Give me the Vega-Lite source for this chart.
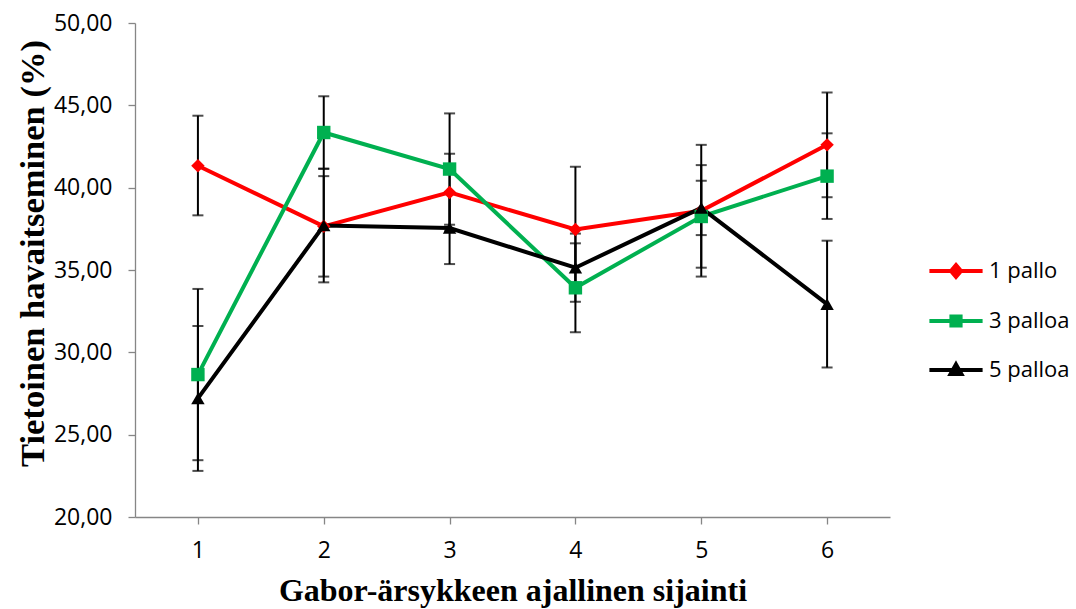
{
  "$schema": "https://vega.github.io/schema/vega-lite/v6.json",
  "width": 755,
  "height": 494,
  "autosize": {"type": "none"},
  "padding": {"left": 135, "top": 23, "right": 186, "bottom": 92},
  "background": "white",
  "config": {
    "view": {"stroke": null},
    "axis": {
      "grid": false,
      "domainColor": "#868686",
      "domainWidth": 1.3,
      "tickColor": "#868686",
      "tickWidth": 1.3,
      "labelColor": "#000000",
      "titleColor": "#000000",
      "labelFont": "Open Sans",
      "titleFont": "Liberation Serif",
      "titleFontWeight": "bold"
    }
  },
  "data": {
    "values": [
      {"pos": 1, "series": "1 pallo", "value": 41.33, "lo": 38.32, "hi": 44.37},
      {"pos": 2, "series": "1 pallo", "value": 37.65, "lo": 34.6, "hi": 40.7},
      {"pos": 3, "series": "1 pallo", "value": 39.71, "lo": 37.36, "hi": 42.06},
      {"pos": 4, "series": "1 pallo", "value": 37.46, "lo": 33.65, "hi": 41.27},
      {"pos": 5, "series": "1 pallo", "value": 38.6, "lo": 34.6, "hi": 42.6},
      {"pos": 6, "series": "1 pallo", "value": 42.6, "lo": 39.42, "hi": 45.78},
      {"pos": 1, "series": "3 palloa", "value": 28.65, "lo": 23.45, "hi": 33.85},
      {"pos": 2, "series": "3 palloa", "value": 43.35, "lo": 41.15, "hi": 45.55},
      {"pos": 3, "series": "3 palloa", "value": 41.13, "lo": 37.75, "hi": 44.51},
      {"pos": 4, "series": "3 palloa", "value": 33.92, "lo": 31.22, "hi": 36.62},
      {"pos": 5, "series": "3 palloa", "value": 38.25, "lo": 35.14, "hi": 41.37},
      {"pos": 6, "series": "3 palloa", "value": 40.7, "lo": 38.1, "hi": 43.3},
      {"pos": 1, "series": "5 palloa", "value": 27.2, "lo": 22.8, "hi": 31.6},
      {"pos": 2, "series": "5 palloa", "value": 37.7, "lo": 34.25, "hi": 41.15},
      {"pos": 3, "series": "5 palloa", "value": 37.55, "lo": 35.36, "hi": 39.74},
      {"pos": 4, "series": "5 palloa", "value": 35.14, "lo": 33.07, "hi": 37.21},
      {"pos": 5, "series": "5 palloa", "value": 38.77, "lo": 37.12, "hi": 40.42},
      {"pos": 6, "series": "5 palloa", "value": 32.93, "lo": 29.08, "hi": 36.78}
    ]
  },
  "encoding": {
    "x": {
      "field": "pos",
      "type": "ordinal",
      "scale": {"type": "point", "padding": 0.5},
      "axis": {
        "title": "Gabor-ärsykkeen ajallinen sijainti",
        "labelAngle": 0,
        "labelFontSize": 23,
        "titleFontSize": 32,
        "tickSize": 7,
        "labelPadding": 15,
        "titlePadding": 13
      }
    }
  },
  "layer": [
    {
      "mark": {"type": "rule", "color": "black", "strokeWidth": 2},
      "encoding": {
        "y": {
          "field": "lo",
          "type": "quantitative",
          "title": "Tietoinen havaitseminen (%)",
          "scale": {"domain": [20, 50], "nice": false, "zero": false},
          "axis": {
            "values": [20, 25, 30, 35, 40, 45, 50],
            "labelExpr": "replace(format(datum.value, '.2f'), '.', ',')",
            "labelFontSize": 23,
            "titleFontSize": 34.5,
            "titleY": 230,
            "tickSize": 7,
            "labelPadding": 16,
            "titlePadding": 3
          }
        },
        "y2": {"field": "hi"}
      }
    },
    {
      "mark": {"type": "tick", "orient": "horizontal", "color": "black", "size": 11, "thickness": 2},
      "encoding": {
        "y": {"field": "lo", "type": "quantitative", "title": "Tietoinen havaitseminen (%)"}
      }
    },
    {
      "mark": {"type": "tick", "orient": "horizontal", "color": "black", "size": 11, "thickness": 2},
      "encoding": {
        "y": {"field": "hi", "type": "quantitative", "title": "Tietoinen havaitseminen (%)"}
      }
    },
    {
      "mark": {"type": "line", "strokeWidth": 4},
      "encoding": {
        "y": {"field": "value", "type": "quantitative", "title": "Tietoinen havaitseminen (%)"},
        "color": {
          "field": "series",
          "type": "nominal",
          "scale": {"domain": ["1 pallo", "3 palloa", "5 palloa"], "range": ["#FF0000", "#00B050", "#000000"]},
          "legend": null
        }
      }
    },
    {
      "mark": {"type": "point", "filled": true, "size": 180, "opacity": 1},
      "encoding": {
        "y": {"field": "value", "type": "quantitative", "title": "Tietoinen havaitseminen (%)"},
        "color": {
          "field": "series",
          "type": "nominal",
          "scale": {"domain": ["1 pallo", "3 palloa", "5 palloa"], "range": ["#FF0000", "#00B050", "#000000"]},
          "legend": null
        },
        "shape": {
          "field": "series",
          "type": "nominal",
          "scale": {"domain": ["1 pallo", "3 palloa", "5 palloa"], "range": ["diamond", "square", "triangle-up"]},
          "legend": null
        }
      }
    },
    {
      "mark": {"type": "point", "filled": true, "size": 10, "opacity": 0, "strokeWidth": 4},
      "encoding": {
        "y": {"field": "value", "type": "quantitative", "title": "Tietoinen havaitseminen (%)"},
        "fill": {
          "field": "series",
          "type": "nominal",
          "scale": {"domain": ["1 pallo", "3 palloa", "5 palloa"], "range": ["#FF0000", "#00B050", "#000000"]},
          "legend": {"title": null, "orient": "none", "legendX": 799, "legendY": 226, "padding": 0, "symbolSize": 1600, "symbolStrokeWidth": 4, "symbolOpacity": 1, "labelFont": "Open Sans", "labelFontSize": 22, "labelOffset": 11, "rowPadding": 14, "labelColor": "#000000"}
        },
        "stroke": {
          "field": "series",
          "type": "nominal",
          "scale": {"domain": ["1 pallo", "3 palloa", "5 palloa"], "range": ["#FF0000", "#00B050", "#000000"]},
          "legend": {"title": null, "orient": "none", "legendX": 799, "legendY": 226, "padding": 0, "symbolSize": 1600, "symbolStrokeWidth": 4, "symbolOpacity": 1, "labelFont": "Open Sans", "labelFontSize": 22, "labelOffset": 11, "rowPadding": 14, "labelColor": "#000000"}
        },
        "shape": {
          "field": "series",
          "type": "nominal",
          "scale": {
            "domain": ["1 pallo", "3 palloa", "5 palloa"],
            "range": [
              "M-1.33,0H1.33M0,-0.3L0.25,0L0,0.3L-0.25,0Z",
              "M-1.33,0H1.33M-0.23,-0.23H0.23V0.23H-0.23Z",
              "M-1.33,0H1.33M0,-0.28L0.27,0.2H-0.27Z"
            ]
          },
          "legend": {"title": null, "orient": "none", "legendX": 799, "legendY": 226, "padding": 0, "symbolSize": 1600, "symbolStrokeWidth": 4, "symbolOpacity": 1, "labelFont": "Open Sans", "labelFontSize": 22, "labelOffset": 11, "rowPadding": 14, "labelColor": "#000000"}
        }
      }
    }
  ],
  "resolve": {"scale": {"shape": "independent", "fill": "independent", "stroke": "independent"}}
}
